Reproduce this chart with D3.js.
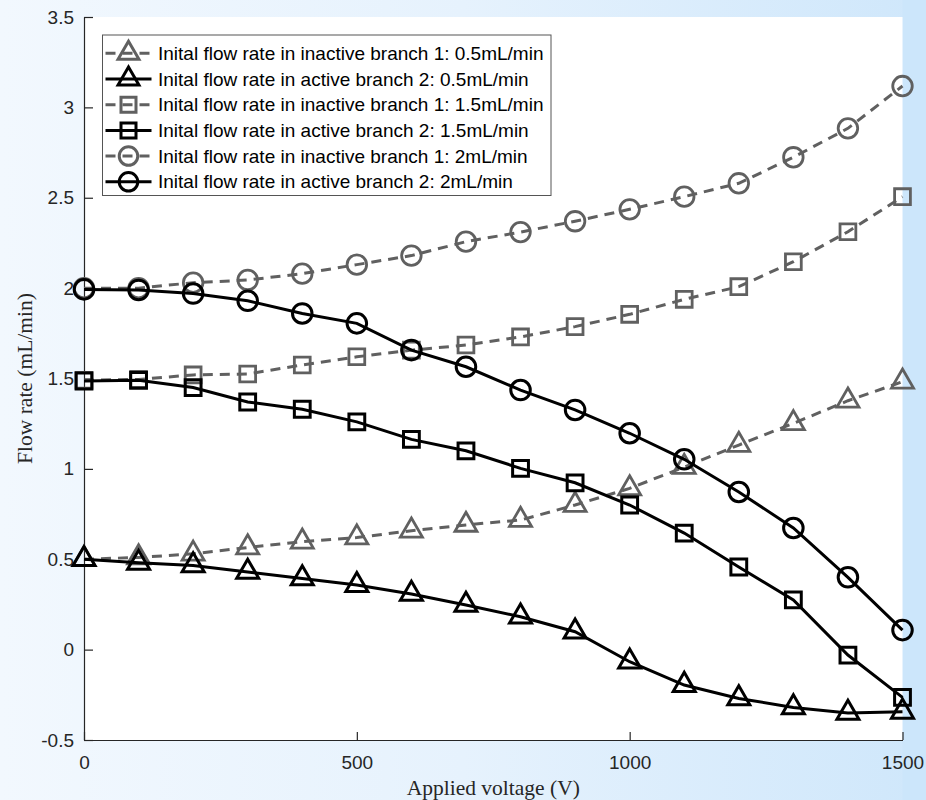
<!DOCTYPE html>
<html>
<head>
<meta charset="utf-8">
<script src="https://cdn.jsdelivr.net/npm/d3@7"></script>
<style>
  body { margin: 0; padding: 0; }
  svg { display: block; }
</style>
</head>
<body>
<div id="chart"></div>
<script>
// Data
const voltages = [0, 100, 200, 300, 400, 500, 600, 700, 800, 900, 1000, 1100, 1200, 1300, 1400, 1500];

const inactive05 = [0.50, 0.51, 0.53, 0.565, 0.597, 0.62, 0.658, 0.69, 0.717, 0.80, 0.892, 1.01, 1.132, 1.252, 1.377, 1.482];
const active05   = [0.50, 0.48, 0.466, 0.43, 0.394, 0.357, 0.308, 0.247, 0.182, 0.099, -0.067, -0.196, -0.27, -0.32, -0.35, -0.344];
const inactive15 = [1.49, 1.495, 1.52, 1.525, 1.575, 1.62, 1.657, 1.685, 1.73, 1.787, 1.855, 1.938, 2.008, 2.146, 2.312, 2.506];
const active15   = [1.486, 1.49, 1.45, 1.37, 1.33, 1.26, 1.163, 1.10, 1.003, 0.923, 0.80, 0.645, 0.457, 0.275, -0.03, -0.264];
const inactive2  = [2.0, 2.0, 2.03, 2.045, 2.08, 2.13, 2.18, 2.257, 2.31, 2.37, 2.436, 2.506, 2.58, 2.724, 2.884, 3.118];
const active2    = [1.993, 1.99, 1.97, 1.93, 1.86, 1.805, 1.657, 1.565, 1.436, 1.326, 1.197, 1.053, 0.872, 0.673, 0.40, 0.108];

const seriesNames = [
  'Inital flow rate in inactive branch 1: 0.5mL/min',
  'Inital flow rate in active branch 2: 0.5mL/min',
  'Inital flow rate in inactive branch 1: 1.5mL/min',
  'Inital flow rate in active branch 2: 1.5mL/min',
  'Inital flow rate in inactive branch 1: 2mL/min',
  'Inital flow rate in active branch 2: 2mL/min'
];
const seriesValues = [inactive05, active05, inactive15, active15, inactive2, active2];
const seriesMarkers = ['triangle', 'triangle', 'square', 'square', 'circle', 'circle'];
const seriesActive = [false, true, false, true, false, true];

const xTicks = [0, 500, 1000, 1500];
const yTicks = [-0.5, 0, 0.5, 1, 1.5, 2, 2.5, 3, 3.5];

//Chart dimensions
const W = 926, H = 800;
const plot = { left: 84, right: 902.5, top: 17, bot: 740 };
const gray = '#606060';
const axisColor = '#262626';

// Scale
const xScale = d3.scaleLinear().domain([0, 1500]).range([plot.left, plot.right]);
const yScale = d3.scaleLinear().domain([-0.5, 3.5]).range([plot.bot, plot.top]);

const svg = d3.select('#chart').append('svg')
  .attr('width', W)
  .attr('height', H);

// background gradient
const defs = svg.append('defs');
const grad = defs.append('linearGradient')
  .attr('id', 'bg')
  .attr('x1', '0%').attr('x2', '100%').attr('y1', '0%').attr('y2', '0%');
grad.append('stop').attr('offset', '0%').attr('stop-color', '#f2f8fe');
grad.append('stop').attr('offset', '50%').attr('stop-color', '#e6f2fd');
grad.append('stop').attr('offset', '100%').attr('stop-color', '#cfe7fb');

svg.append('rect')
  .attr('width', W).attr('height', H)
  .attr('fill', 'url(#bg)');

svg.append('rect')
  .attr('x', plot.right).attr('y', 0)
  .attr('width', W - plot.right).attr('height', H)
  .attr('fill', '#cce6fb');

svg.append('rect')
  .attr('x', plot.left).attr('y', plot.top)
  .attr('width', plot.right - plot.left)
  .attr('height', plot.bot - plot.top)
  .attr('fill', '#ffffff');

// Axes
const xAxis = d3.axisBottom(xScale).tickValues(xTicks).tickSizeInner(-8).tickSizeOuter(0).tickPadding(16).tickFormat(d => String(d));
const yAxis = d3.axisLeft(yScale).tickValues(yTicks).tickSizeInner(-9).tickSizeOuter(0).tickPadding(18).tickFormat(d => String(d));

const gx = svg.append('g')
  .attr('transform', `translate(0, ${plot.bot})`)
  .call(xAxis);
const gy = svg.append('g')
  .attr('transform', `translate(${plot.left}, 0)`)
  .call(yAxis);

[gx, gy].forEach(g => {
  g.select('.domain').attr('stroke', axisColor).attr('stroke-width', 1.2);
  g.selectAll('.tick line').attr('stroke', axisColor).attr('stroke-width', 1.2);
  g.selectAll('.tick text')
    .attr('fill', axisColor)
    .style('font-family', '"Liberation Sans", Arial, sans-serif')
    .style('font-size', '19px');
});
gy.selectAll('.tick text').attr('x', -10);

// Axis labels
svg.append('text')
  .attr('x', (plot.left + plot.right) / 2)
  .attr('y', 795)
  .attr('text-anchor', 'middle')
  .attr('fill', axisColor)
  .style('font-family', '"Liberation Serif", "Times New Roman", serif')
  .style('font-size', '21.5px')
  .text('Applied voltage (V)');

svg.append('text')
  .attr('transform', `translate(32, ${(plot.top + plot.bot) / 2}) rotate(-90)`)
  .attr('text-anchor', 'middle')
  .attr('fill', axisColor)
  .style('font-family', '"Liberation Serif", "Times New Roman", serif')
  .style('font-size', '21.5px')
  .text('Flow rate (mL/min)');

// Markers
const symbolSizes = { triangle: 210, square: 250, circle: 300 };
const symbolTypes = { triangle: d3.symbolTriangle, square: d3.symbolSquare, circle: d3.symbolCircle };
function markerPath(kind, scale) {
  return d3.symbol().type(symbolTypes[kind]).size(symbolSizes[kind] * (scale || 1))();
}

const line = d3.line()
  .x((d, i) => xScale(voltages[i]))
  .y(d => yScale(d));

seriesValues.forEach((vals, k) => {
  const color = seriesActive[k] ? '#000000' : gray;
  const g = svg.append('g').attr('class', 'series-' + k);
  g.append('path')
    .datum(vals)
    .attr('d', line)
    .attr('fill', 'none')
    .attr('stroke', color)
    .attr('stroke-width', 3)
    .attr('stroke-dasharray', seriesActive[k] ? null : '10,7');
  g.selectAll('path.mk')
    .data(vals)
    .enter().append('path')
    .attr('class', 'mk')
    .attr('d', markerPath(seriesMarkers[k]))
    .attr('transform', (d, i) => `translate(${xScale(voltages[i])}, ${yScale(d)})`)
    .attr('fill', 'none')
    .attr('stroke', color)
    .attr('stroke-width', seriesActive[k] ? 3 : 2.8);
});

//Legend
const legend = svg.append('g')
  .attr('class', 'legend')
  .attr('transform', 'translate(102.5, 35)');

legend.append('rect')
  .attr('width', 448.5)
  .attr('height', 160.5)
  .attr('fill', '#ffffff')
  .attr('stroke', '#555555')
  .attr('stroke-width', 1);

seriesNames.forEach((name, k) => {
  const color = seriesActive[k] ? '#000000' : gray;
  const row = legend.append('g')
    .attr('transform', `translate(0, ${18.3 + k * 25.7})`);
  row.append('line')
    .attr('x1', 3).attr('x2', 49)
    .attr('stroke', color)
    .attr('stroke-width', 3)
    .attr('stroke-dasharray', seriesActive[k] ? null : '10,7');
  row.append('path')
    .attr('d', markerPath(seriesMarkers[k], 0.9))
    .attr('transform', 'translate(26, 0)')
    .attr('fill', 'none')
    .attr('stroke', color)
    .attr('stroke-width', 3);
  row.append('text')
    .attr('x', 55.5)
    .attr('dy', '0.35em')
    .attr('fill', '#000000')
    .style('font-family', '"Liberation Sans", Arial, sans-serif')
    .style('font-size', '19px')
    .text(name);
});
</script>
</body>
</html>
